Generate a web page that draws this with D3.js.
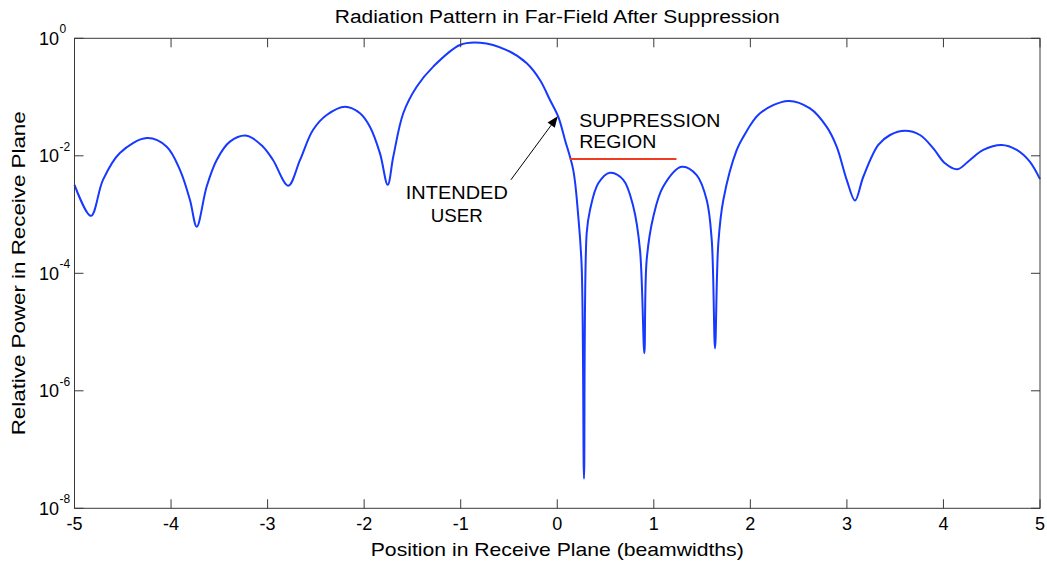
<!DOCTYPE html>
<html>
<head>
<meta charset="utf-8">
<script src="https://cdn.jsdelivr.net/npm/d3@7"></script>
<style>
  html, body { margin: 0; padding: 0; background: #fff; }
  svg { display: block; }
  text { font-family: "Liberation Sans", Arial, Helvetica, sans-serif; fill: #000; }
</style>
</head>
<body>
<svg id="chart" width="1047" height="565"></svg>
<script>
// ---- data ----
const position = [
  -5.00, -4.83, -4.705, -4.53, -4.25, -4.045, -3.907, -3.804, -3.734, -3.631,
  -3.527, -3.39, -3.216, -3.048, -2.944, -2.786, -2.664, -2.53, -2.388, -2.198,
  -2.043, -1.939, -1.836, -1.756, -1.698, -1.595, -1.456, -1.284, -1.007, -0.80,
  -0.524, -0.316, -0.179, -0.075, 0.011, 0.080, 0.166, 0.218, 0.253, 0.277,
  0.305, 0.339, 0.425, 0.546, 0.684, 0.788, 0.857, 0.902, 0.926, 0.995,
  1.098, 1.289, 1.444, 1.548, 1.600, 1.634, 1.668, 1.720, 1.859, 1.927,
  2.100, 2.393, 2.618, 2.791, 2.894, 2.998, 3.084, 3.170, 3.325, 3.447,
  3.602, 3.757, 3.895, 4.016, 4.143, 4.275, 4.413, 4.603, 4.759, 4.896, 5.00
];
const relativePower = [
  3.2e-3, 9.5e-4, 3.9e-3, 1.12e-2, 2.0e-2, 1.43e-2, 5.7e-3, 1.77e-3, 6.2e-4, 3.0e-3,
  8.5e-3, 1.74e-2, 2.2e-2, 1.43e-2, 8.5e-3, 3.1e-3, 8.5e-3, 2.75e-2, 4.95e-2, 6.85e-2,
  5.3e-2, 3.1e-2, 1.1e-2, 3.2e-3, 9.7e-3, 5.3e-2, 0.15, 0.33, 0.77, 0.84,
  0.63, 0.375, 0.195, 8.9e-2, 4.6e-2, 1.86e-2, 5.7e-3, 9.2e-4, 1.3e-4, 3.2e-8,
  4.85e-4, 1.19e-3, 3.4e-3, 5.15e-3, 3.9e-3, 1.36e-3, 2.5e-4, 4.35e-6, 1.68e-4, 9.2e-4,
  3.0e-3, 6.5e-3, 4.7e-3, 1.77e-3, 3.7e-4, 5.3e-6, 3.2e-4, 1.77e-3, 1.26e-2, 2.1e-2,
  5.3e-2, 8.6e-2, 6.4e-2, 3.1e-2, 1.43e-2, 3.9e-3, 1.73e-3, 4.4e-3, 1.53e-2, 2.26e-2,
  2.67e-2, 2.26e-2, 1.34e-2, 7.45e-3, 5.9e-3, 8.5e-3, 1.26e-2, 1.53e-2, 1.26e-2, 7.9e-3, 4.0e-3
];
const xTicks = [-5, -4, -3, -2, -1, 0, 1, 2, 3, 4, 5];
const yTickExponents = [0, -2, -4, -6, -8];

// suppression region marker (data coords)
const suppressionX = [0.13, 1.235];
const suppressionLevel = 8.8e-3;
// annotation arrow: tail -> tip (data coords)
const arrowTail = [-0.48, 3.9e-3];
const arrowTip = [0.005, 4.7e-2];
// annotation texts (data coords)
const suppressionLabel = ["SUPPRESSION", "REGION"];
const suppressionLabelPos = [[0.228, 3.13e-2], [0.228, 1.34e-2]];
const userLabel = ["INTENDED", "USER"];
const userLabelPos = [[-1.04, 1.84e-3], [-1.04, 7.6e-4]];

const titleText = "Radiation Pattern in Far-Field After Suppression";
const xLabelText = "Position in Receive Plane (beamwidths)";
const yLabelText = "Relative Power in Receive Plane";

// ---- layout ----
const L = 74.5, R = 1040, T = 38.3, B = 508.3;
const svg = d3.select("#chart");

const x = d3.scaleLinear().domain([-5, 5]).range([L, R]);
const y = d3.scaleLog().domain([1e-8, 1]).range([B, T]);

// curve
const pts = position.map((p, i) => [p, relativePower[i]]);
const line = d3.line()
  .x(d => x(d[0]))
  .y(d => y(d[1]))
  .curve(d3.curveCatmullRom.alpha(0.5));

svg.append("path")
  .datum(pts)
  .attr("d", line)
  .attr("fill", "none")
  .attr("stroke", "#1638ff")
  .attr("stroke-width", 2)
  .attr("stroke-linejoin", "round");

// suppression red line
svg.append("line")
  .attr("x1", x(suppressionX[0])).attr("x2", x(suppressionX[1]))
  .attr("y1", y(suppressionLevel)).attr("y2", y(suppressionLevel))
  .attr("stroke", "#f23a22").attr("stroke-width", 2);

// axes box
const axisColor = "#3a3a3a";
svg.append("rect")
  .attr("x", L).attr("y", T).attr("width", R - L).attr("height", B - T)
  .attr("fill", "none").attr("stroke", axisColor).attr("stroke-width", 1);

// ticks
const tickLen = 9;
const gx = svg.append("g");
xTicks.forEach(t => {
  const px = x(t);
  gx.append("line").attr("x1", px).attr("x2", px).attr("y1", B).attr("y2", B - tickLen)
    .attr("stroke", axisColor);
  gx.append("line").attr("x1", px).attr("x2", px).attr("y1", T).attr("y2", T + tickLen)
    .attr("stroke", axisColor);
  gx.append("text").attr("x", px).attr("y", B + 22)
    .attr("text-anchor", "middle").attr("font-size", 18)
    .text(t < 0 ? "-" + Math.abs(t) : String(t));
});

const gy = svg.append("g");
yTickExponents.forEach(e => {
  const py = y(Math.pow(10, e));
  gy.append("line").attr("x1", L).attr("x2", L + tickLen).attr("y1", py).attr("y2", py)
    .attr("stroke", axisColor);
  gy.append("line").attr("x1", R).attr("x2", R - tickLen).attr("y1", py).attr("y2", py)
    .attr("stroke", axisColor);
  gy.append("text").attr("x", 59).attr("y", py + 6.5)
    .attr("text-anchor", "end").attr("font-size", 18).text("10");
  gy.append("text").attr("x", 59.5).attr("y", py - 5)
    .attr("text-anchor", "start").attr("font-size", 12).text(String(e));
});

// title & axis labels
svg.append("text").attr("x", (L + R) / 2).attr("y", 23)
  .attr("text-anchor", "middle").attr("font-size", 18)
  .attr("textLength", 445).attr("lengthAdjust", "spacingAndGlyphs")
  .text(titleText);

svg.append("text").attr("x", (L + R) / 2).attr("y", 556)
  .attr("text-anchor", "middle").attr("font-size", 19)
  .attr("textLength", 373).attr("lengthAdjust", "spacingAndGlyphs")
  .text(xLabelText);

svg.append("text")
  .attr("transform", `translate(25,${(T + B) / 2}) rotate(-90)`)
  .attr("text-anchor", "middle").attr("font-size", 19)
  .attr("textLength", 324).attr("lengthAdjust", "spacingAndGlyphs")
  .text(yLabelText);

// annotations
const annLen = { "SUPPRESSION": 141, "REGION": 77, "INTENDED": 102, "USER": 52 };
suppressionLabel.forEach((s, i) => {
  svg.append("text")
    .attr("x", x(suppressionLabelPos[i][0])).attr("y", y(suppressionLabelPos[i][1]))
    .attr("text-anchor", "start").attr("font-size", 19)
    .attr("textLength", annLen[s]).attr("lengthAdjust", "spacingAndGlyphs")
    .text(s);
});
userLabel.forEach((s, i) => {
  svg.append("text")
    .attr("x", x(userLabelPos[i][0])).attr("y", y(userLabelPos[i][1]))
    .attr("text-anchor", "middle").attr("font-size", 19)
    .attr("textLength", annLen[s]).attr("lengthAdjust", "spacingAndGlyphs")
    .text(s);
});

// arrow
const tx = x(arrowTail[0]), ty = y(arrowTail[1]);
const hx = x(arrowTip[0]), hy = y(arrowTip[1]);
const ang = Math.atan2(hy - ty, hx - tx);
const headL = 11, headW = 4.5;
const bx = hx - headL * Math.cos(ang), by = hy - headL * Math.sin(ang);
svg.append("line").attr("x1", tx).attr("y1", ty).attr("x2", bx).attr("y2", by)
  .attr("stroke", "#000").attr("stroke-width", 1);
svg.append("path")
  .attr("d", d3.line()([
    [hx, hy],
    [bx + headW * Math.sin(ang), by - headW * Math.cos(ang)],
    [bx - headW * Math.sin(ang), by + headW * Math.cos(ang)]
  ]) + "Z")
  .attr("fill", "#000");
</script>
</body>
</html>
